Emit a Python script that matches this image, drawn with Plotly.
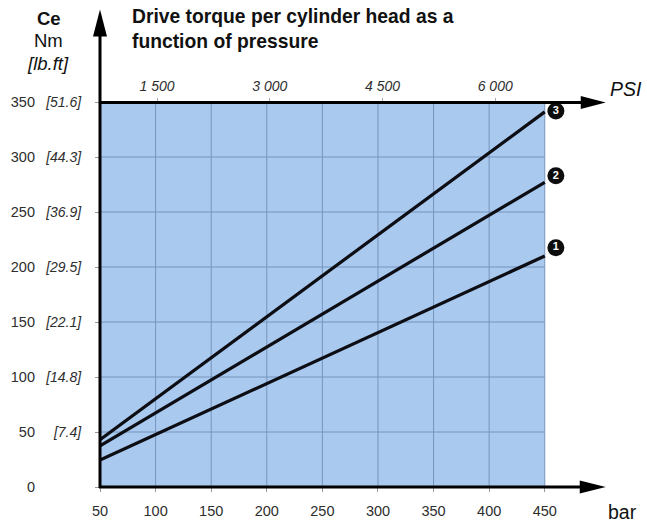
import plotly.graph_objects as go

# Pressure (bar) and drive torque (Nm) for the three cylinder head sizes
pressure_bar = [50, 450]
torque_1 = [24.5, 210]
torque_2 = [37.5, 277]
torque_3 = [43, 341]

curve_ids = ["1", "2", "3"]
curve_label_bar = [460, 460, 460]
curve_label_nm = [217.6, 282.9, 341.8]

bar_ticks = [50, 100, 150, 200, 250, 300, 350, 400, 450]
nm_ticks = [0, 50, 100, 150, 200, 250, 300, 350]
lbft_labels = ["", "[7.4]", "[14.8]", "[22.1]", "[29.5]", "[36.9]", "[44.3]", "[51.6]"]
psi_ticks = [1500, 3000, 4500, 6000]
psi_labels = ["1 500", "3 000", "4 500", "6 000"]

PSI_PER_BAR = 14.8
X_MIN, X_MAX, X_VIEW = 50, 450, 470   # chart area ends at 450 bar; view extends for badges
Y_MIN, Y_MAX = 0, 350

W, H = 647, 524
L, T, B = 100, 101.5, 37
R = 79.75
FONT = "Liberation Sans, Arial, sans-serif"
TICK_COLOR = "#2e2e2e"
GRID = "#7794bd"
FILL = "#a9c9ef"

pw = W - L - R
ph = H - T - B


def px(x):
    return (x - L) / pw


def py(y):
    return (H - B - y) / ph


fig = go.Figure()

for y in (torque_1, torque_2, torque_3):
    fig.add_trace(go.Scatter(
        x=pressure_bar, y=y, mode="lines",
        line=dict(color="#0d0d14", width=3.2),
        hoverinfo="skip", showlegend=False,
    ))

# numbered curve badges
fig.add_trace(go.Scatter(
    x=curve_label_bar, y=curve_label_nm, mode="markers+text",
    text=["<b>%s</b>" % c for c in curve_ids], textposition="middle center",
    textfont=dict(color="white", size=11, family=FONT),
    marker=dict(color="#0d0d0d", size=17, line=dict(width=0)),
    cliponaxis=False, hoverinfo="skip", showlegend=False,
))

# invisible traces to carry the secondary axes
fig.add_trace(go.Scatter(x=[psi_ticks[0]], y=[0], xaxis="x2", yaxis="y",
                         mode="markers", marker=dict(opacity=0),
                         hoverinfo="skip", showlegend=False))
fig.add_trace(go.Scatter(x=[bar_ticks[0]], y=[0], xaxis="x", yaxis="y2",
                         mode="markers", marker=dict(opacity=0),
                         hoverinfo="skip", showlegend=False))

shapes = []
# shaded chart field and its grid
shapes.append(dict(type="rect", xref="x", yref="y", layer="below",
                   x0=X_MIN, x1=X_MAX, y0=Y_MIN, y1=Y_MAX,
                   fillcolor=FILL, line=dict(width=0)))
for v in bar_ticks[1:]:
    shapes.append(dict(type="line", xref="x", yref="y", layer="below",
                       x0=v, x1=v, y0=Y_MIN, y1=Y_MAX,
                       line=dict(color=GRID, width=1)))
for v in nm_ticks[1:-1]:
    shapes.append(dict(type="line", xref="x", yref="y", layer="below",
                       x0=X_MIN, x1=X_MAX, y0=v, y1=v,
                       line=dict(color=GRID, width=1)))

# axis arrows: shafts
lw = 3
shapes.append(dict(type="line", xref="paper", yref="paper",
                   x0=px(100), y0=py(488), x1=px(100), y1=py(30),
                   line=dict(color="black", width=lw)))
shapes.append(dict(type="line", xref="paper", yref="paper",
                   x0=px(99), y0=py(487), x1=px(585), y1=py(487),
                   line=dict(color="black", width=lw)))
shapes.append(dict(type="line", xref="paper", yref="paper",
                   x0=px(99), y0=py(102), x1=px(585), y1=py(102),
                   line=dict(color="black", width=lw)))


def tri(pts):
    s = "M %f,%f" % (px(pts[0][0]), py(pts[0][1]))
    for p in pts[1:]:
        s += " L %f,%f" % (px(p[0]), py(p[1]))
    return s + " Z"


for pts in ([(100, 9), (93, 36), (107, 36)],
            [(606, 487), (580, 480.5), (580, 493.5)],
            [(606, 102), (581, 95.5), (581, 108.5)]):
    shapes.append(dict(type="path", xref="paper", yref="paper", path=tri(pts),
                       fillcolor="black", line=dict(width=0)))

annotations = [
    dict(text="<b>Drive torque per cylinder head as a<br>function of pressure</b>",
         xref="paper", yref="paper", x=px(130), y=py(3), xanchor="left", yanchor="top",
         align="left", showarrow=False,
         font=dict(size=19.3, family=FONT, color="#111111")),
    dict(text="<b>Ce</b>", xref="paper", yref="paper", x=px(48.5), y=py(18),
         xanchor="center", yanchor="middle", showarrow=False,
         font=dict(size=18.5, family=FONT, color="#111111")),
    dict(text="Nm", xref="paper", yref="paper", x=px(48), y=py(40),
         xanchor="center", yanchor="middle", showarrow=False,
         font=dict(size=18.5, family=FONT, color="#111111")),
    dict(text="<i>[lb.ft]</i>", xref="paper", yref="paper", x=px(47.5), y=py(63),
         xanchor="center", yanchor="middle", showarrow=False,
         font=dict(size=18.5, family=FONT, color="#111111")),
    dict(text="bar", xref="paper", yref="paper", x=px(623), y=py(512),
         xanchor="center", yanchor="middle", showarrow=False,
         font=dict(size=19.5, family=FONT, color="#111111")),
    dict(text="<i>PSI</i>", xref="paper", yref="paper", x=px(626), y=py(88),
         xanchor="center", yanchor="middle", showarrow=False,
         font=dict(size=19.5, family=FONT, color="#111111")),
]

fig.update_layout(
    width=W, height=H,
    margin=dict(l=L, r=R, t=T, b=B, pad=0, autoexpand=False),
    paper_bgcolor="white", plot_bgcolor="white",
    shapes=shapes, annotations=annotations,
    xaxis=dict(range=[X_MIN, X_VIEW], tickvals=bar_ticks,
               ticktext=[str(v) for v in bar_ticks],
               showgrid=False, zeroline=False, showline=False,
               ticks="outside", ticklen=4, tickcolor="#999999",
               ticklabelstandoff=7, automargin=False,
               tickfont=dict(size=14.5, family=FONT, color=TICK_COLOR),
               fixedrange=True),
    xaxis2=dict(range=[X_MIN * PSI_PER_BAR, X_VIEW * PSI_PER_BAR], overlaying="x",
                side="top", anchor="y", tickvals=psi_ticks, ticktext=psi_labels,
                showgrid=False, zeroline=False, showline=False,
                ticks="outside", ticklen=3, tickcolor="#aaaaaa",
                ticklabelstandoff=1, automargin=False,
                tickfont=dict(size=14, family=FONT, color=TICK_COLOR, style="italic"),
                fixedrange=True),
    yaxis=dict(range=[Y_MIN, Y_MAX], tickvals=nm_ticks, ticktext=lbft_labels,
               showgrid=False, zeroline=False, showline=False,
               ticks="outside", ticklen=4, tickcolor="#999999",
               ticklabelstandoff=11, automargin=False,
               tickfont=dict(size=14, family=FONT, color=TICK_COLOR, style="italic"),
               fixedrange=True),
    yaxis2=dict(range=[Y_MIN, Y_MAX], overlaying="y", side="left", anchor="x",
                tickvals=nm_ticks, ticktext=[str(v) for v in nm_ticks],
                showgrid=False, zeroline=False, showline=False, ticks="",
                ticklabelstandoff=64, automargin=False,
                tickfont=dict(size=14.5, family=FONT, color=TICK_COLOR),
                fixedrange=True),
)

fig.write_html("out.html", config={"displayModeBar": False})
